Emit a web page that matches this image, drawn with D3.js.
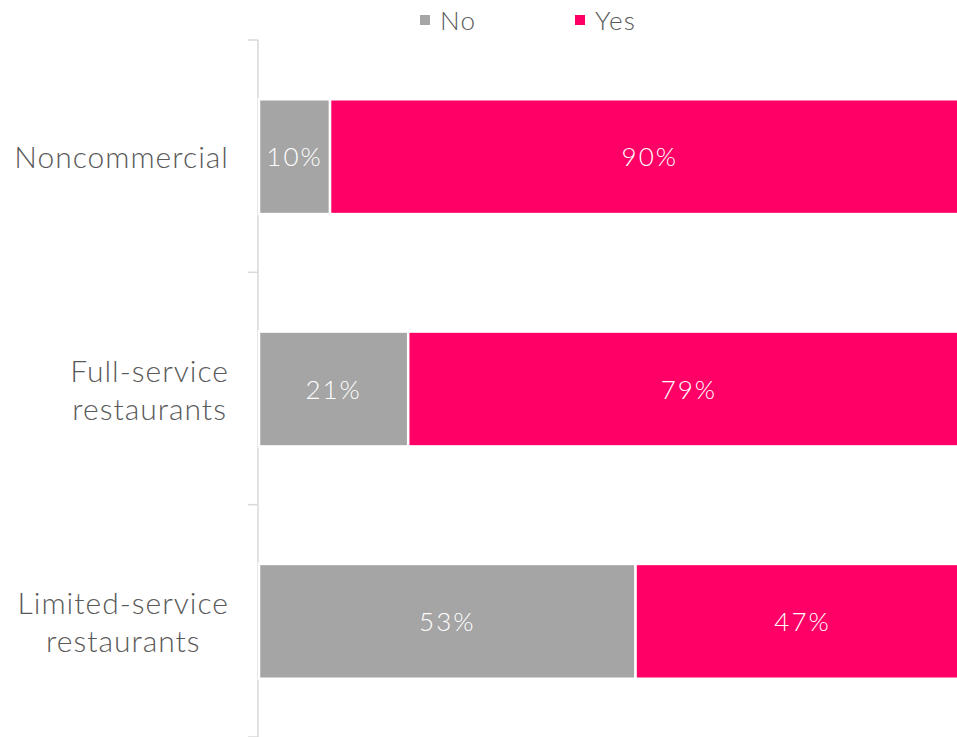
<!DOCTYPE html>
<html>
<head>
<meta charset="utf-8">
<script src="https://cdn.jsdelivr.net/npm/d3@7"></script>
<style>
  html, body { margin: 0; padding: 0; background: #fff; overflow: hidden; }
  svg { display: block; font-family: Lato, "Noto Sans", sans-serif; font-weight: 300; }
</style>
</head>
<body>
<svg id="chart" width="957" height="737"></svg>
<script>
// Segments and their shares per operator type (percent)
const categories = [["Noncommercial"], ["Full-service", "restaurants"], ["Limited-service", "restaurants"]];
const categoryKeys = ["Noncommercial", "Full-service restaurants", "Limited-service restaurants"];
const seriesNames = ["No", "Yes"];
const noValues = [10, 21, 53];
const yesValues = [90, 79, 47];
const colors = ["#a5a5a5", "#ff0066"];

const svg = d3.select("#chart");
const W = 957, H = 737;
const margin = { left: 258, top: 40 };
// the value axis runs a little past the right edge of the canvas
const plotRight = 968.5;

const x = d3.scaleLinear().domain([0, 100]).range([margin.left, plotRight]);
const y = d3.scaleBand().domain(categoryKeys).range([margin.top, H]).paddingInner(0.51).paddingOuter(0.255);

const rows = categoryKeys.map((k, i) => ({ key: k, No: noValues[i], Yes: yesValues[i] }));
const stacked = d3.stack().keys(seriesNames)(rows);

// Category axis line and ticks
const axisG = svg.append("g");
axisG.append("line")
  .attr("x1", margin.left).attr("x2", margin.left)
  .attr("y1", margin.top).attr("y2", H)
  .attr("stroke", "#d9d9d9").attr("stroke-width", 1.5);
const step = (H - margin.top) / categoryKeys.length;
d3.range(categoryKeys.length + 1).forEach(i => {
  const yy = margin.top + i * step;
  axisG.append("line")
    .attr("x1", margin.left - 10).attr("x2", margin.left)
    .attr("y1", yy).attr("y2", yy)
    .attr("stroke", "#d9d9d9").attr("stroke-width", 1.5);
});

// Stacked bars
stacked.forEach((s, si) => {
  svg.append("g").selectAll("rect").data(s).join("rect")
    .attr("x", d => x(d[0]) + 1)
    .attr("y", d => y(d.data.key))
    .attr("width", d => x(d[1]) - x(d[0]))
    .attr("height", y.bandwidth() + 1)
    .attr("fill", colors[si])
    .attr("stroke", "#fff").attr("stroke-width", 2.5);
  svg.append("g").selectAll("text").data(s).join("text")
    .attr("x", d => (x(d[0]) + x(d[1])) / 2 + 1)
    .attr("y", d => y(d.data.key) + y.bandwidth() / 2)
    .attr("text-anchor", "middle").attr("dominant-baseline", "central")
    .attr("fill", "#fff").attr("font-size", 26).attr("letter-spacing", 2)
    .text(d => (d[1] - d[0]) + "%");
});

// Category labels: each block right-aligned to the axis, lines centred within it
const labelRight = 229;
categoryKeys.forEach((k, i) => {
  const lines = categories[i];
  const cy = y(k) + y.bandwidth() / 2;
  const lh = 38;
  const t = svg.append("text")
    .attr("text-anchor", "middle")
    .attr("fill", "#595959").attr("font-size", 30).attr("letter-spacing", 1);
  const spans = lines.map((ln, j) => t.append("tspan")
    .attr("y", cy + (j - (lines.length - 1) / 2) * lh)
    .attr("dominant-baseline", "central")
    .text(ln));
  const maxW = d3.max(spans, sp => sp.node().getComputedTextLength());
  spans.forEach(sp => sp.attr("x", labelRight - maxW / 2));
});

// Legend
const legendX = [420, 575];
seriesNames.forEach((n, i) => {
  const g = svg.append("g").attr("transform", `translate(${legendX[i]},0)`);
  g.append("rect").attr("x", 0).attr("y", 15).attr("width", 10).attr("height", 10).attr("fill", colors[i]);
  g.append("text").attr("x", 20).attr("y", 20).attr("dominant-baseline", "central")
    .attr("fill", "#595959").attr("font-size", 26).attr("letter-spacing", 1.2).text(n);
});
</script>
</body>
</html>
